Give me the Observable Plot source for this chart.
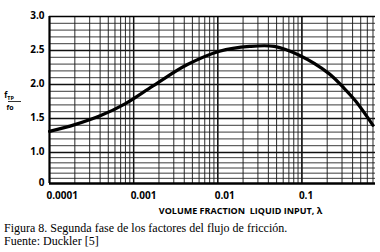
<!DOCTYPE html>
<html><head><meta charset="utf-8">
<script src="https://cdn.jsdelivr.net/npm/d3@7"></script>
<script src="https://cdn.jsdelivr.net/npm/@observablehq/plot@0.6"></script>
<style>
body{margin:0;background:#fff;width:380px;height:252px;overflow:hidden}
#cap{font-family:"Liberation Serif",serif;font-size:12px;line-height:13px;margin:0 0 0 4px;color:#000}
</style></head><body>
<div id="chart"></div>
<div id="cap">Figura 8. Segunda fase de los factores del flujo de fricción.<br>Fuente: Duckler [5]</div>
<script>
// Curve: volume fraction liquid input (lambda) vs fTP/fo
const lambda = [0.0001, 0.0002, 0.0004, 0.0008, 0.0017, 0.0043, 0.0105, 0.024, 0.047, 0.093, 0.21, 0.32, 0.44, 0.70];
const ratio  = [1.31,   1.41,   1.54,   1.72,   1.98,   2.29,   2.49,   2.56,  2.56,  2.43,  2.16, 1.94, 1.75, 1.40];

const xTickValues = [0.0001, 0.001, 0.01, 0.1];
const xTickLabels = ["0.0001", "0.001", "0.01", "0.1"];
const yTickValues = [0, 1.0, 1.5, 2.0, 2.5, 3.0];
const yTickLabels = ["0", "1.0", "1.5", "2.0", "2.5", "3.0"];
const xTitle = "VOLUME FRACTION  LIQUID INPUT, λ";

// grid line positions
const xGrid = [];
for (const dec of [0.0001, 0.001, 0.01, 0.1]) for (let k = 1; k <= 9; k++) { const v = dec * k; if (v <= 0.75) xGrid.push(v); }
const yGridFine = d3.range(1.0, 3.001, 0.1);
const yGridLow = d3.range(0, 1, 1/6);
const yGridMajor = [1.0, 1.5, 2.0, 2.5];

// the printed axis is compressed below 1.0
const lowFactor = 31 / 68;
const ySquash = v => v <= 1 ? v * lowFactor : lowFactor + (v - 1);

const H = 222;
const plot = Plot.plot({
  width: 380, height: H,
  marginLeft: 49, marginRight: 5, marginTop: 16, marginBottom: H - 183,
  x: {type: "log", domain: [0.0001, 0.75], axis: null},
  y: {type: "linear", transform: ySquash, domain: [0, ySquash(3)], axis: null},
  style: {fontFamily: "'Open Sans', sans-serif"},
  marks: [
    Plot.ruleX(xGrid, {x: d => d, y1: 0, y2: 3, stroke: "#1a1a1a", strokeWidth: 1.1, strokeOpacity: 0.85}),
    Plot.ruleX(xTickValues, {x: d => d, y1: 0, y2: 3, stroke: "#111", strokeWidth: 1.4}),
    Plot.ruleY(yGridFine, {y: d => d, x1: 0.0001, x2: 0.75, stroke: "#1a1a1a", strokeWidth: 1, strokeOpacity: 0.85}),
    Plot.ruleY(yGridLow, {y: d => d, x1: 0.0001, x2: 0.75, stroke: "#1a1a1a", strokeWidth: 1, strokeOpacity: 0.85}),
    Plot.ruleY(yGridMajor, {y: d => d, x1: 0.0001, x2: 0.75, stroke: "#111", strokeWidth: 1.4}),
    Plot.ruleY([0], {x1: 0.0001, x2: 0.75, stroke: "#000", strokeWidth: 2.5}),
    Plot.ruleY([3], {x1: 0.0001, x2: 0.75, stroke: "#000", strokeWidth: 1.6}),
    Plot.ruleX([0.0001], {y1: 0, y2: 3, stroke: "#000", strokeWidth: 2}),
    Plot.line(lambda.map((d, i) => ({x: d, y: ratio[i]})), {x: "x", y: "y", curve: "catmull-rom", stroke: "#000", strokeWidth: 3.2}),
    Plot.text(xTickValues, {x: d => d, y: 0, text: (d, i) => xTickLabels[i], dy: 12, dx: -3, textAnchor: "start", fontSize: 10, fontWeight: 700, fill: "#000"}),
    Plot.text(yTickValues, {x: 0.0001, y: d => d, text: (d, i) => yTickLabels[i], dx: -5, dy: -1, textAnchor: "end", fontSize: 10, fontWeight: 700, fill: "#000"}),
    Plot.text([xTitle], {frameAnchor: "bottom", dx: 28, dy: 30, text: d => d, fontSize: 9, fontWeight: 700, fill: "#000", style: "letter-spacing:1px"})
  ]
});
document.getElementById("chart").appendChild(plot);

// y-axis label fTP / fo
const svg = d3.select(plot);
const g = svg.append("g").attr("font-family", "'Open Sans', sans-serif").attr("font-weight", 700).attr("fill", "#000");
const t1 = g.append("text").attr("x", 9).attr("y", 98).attr("font-size", 8);
t1.append("tspan").text("f");
t1.append("tspan").attr("font-size", 5.5).attr("dy", 2).text("TP");
g.append("line").attr("x1", 8).attr("x2", 21).attr("y1", 101.5).attr("y2", 101.5).attr("stroke", "#000").attr("stroke-width", 0.8);
g.append("text").attr("x", 10).attr("y", 110).attr("font-size", 7).text("fo");
</script>
</body></html>
